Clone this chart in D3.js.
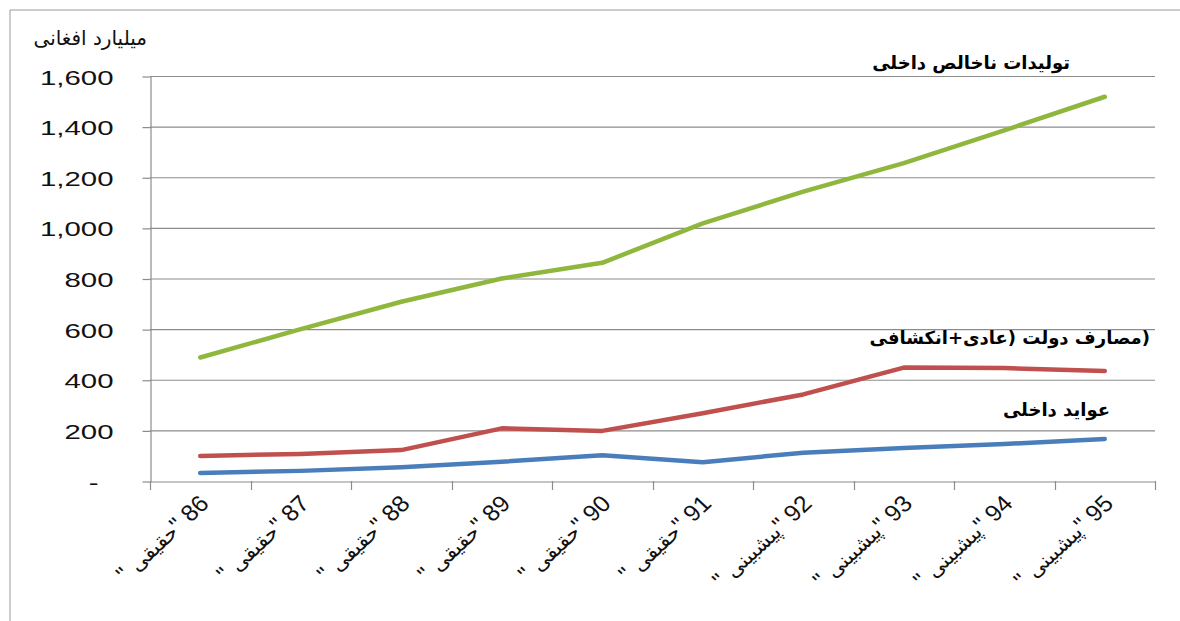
<!DOCTYPE html>
<html lang="fa">
<head>
<meta charset="UTF-8">
<title>Afghanistan GDP, spending, revenue</title>
<style>
    body { margin: 0; background: #fff; }
    .ar { font-family: "DejaVu Sans", sans-serif; }
    .num { font-family: "Liberation Sans", Arial, sans-serif; }
</style>
</head>
<body>
<div id="chart"></div>
<script src="https://d3js.org/d3.v7.min.js"></script>
<script>
// data (billion afghani)
const years = ["86", "87", "88", "89", "90", "91", "92", "93", "94", "95"];
const kinds = ["حقیقی", "حقیقی", "حقیقی", "حقیقی", "حقیقی", "حقیقی", "پیشبینی", "پیشبینی", "پیشبینی", "پیشبینی"];
const gdp      = [488, 600, 708, 800, 862, 1018, 1143, 1256, 1385, 1518];
const spending = [99, 107, 122, 208, 198, 268, 342, 448, 446, 435];
const revenue  = [32, 40, 54, 76, 102, 74, 112, 130, 146, 166];
const yTicks = [0, 200, 400, 600, 800, 1000, 1200, 1400, 1600];

const series = [
    { name: "تولیدات ناخالص داخلی", values: gdp, color: "#8fb73e", lx: 1070, ly: 69 },
    { name: "(مصارف دولت (عادی+انکشافی", values: spending, color: "#c0504d", lx: 1150, ly: 344 },
    { name: "عواید داخلی", values: revenue, color: "#4a7ebb", lx: 1110, ly: 416 }
];

const W = 1180, H = 621;
const plot = { left: 150, right: 1155, top: 76, bottom: 481 };
const stretch = 1.4;   // the source picture is widened horizontally

const svg = d3.select("#chart").append("svg")
    .attr("width", W)
    .attr("height", H);

// chart frame
svg.append("line").attr("x1", 10).attr("x2", W).attr("y1", 10).attr("y2", 10)
    .style("stroke", "#9a9a9a").style("stroke-width", 1);
svg.append("line").attr("x1", 10).attr("x2", 10).attr("y1", 10).attr("y2", H)
    .style("stroke", "#9a9a9a").style("stroke-width", 1);

const x = d3.scaleBand()
    .domain(years)
    .range([plot.left, plot.right]);

const y = d3.scaleLinear()
    .domain([0, 1600])
    .range([plot.bottom, plot.top]);

// gridlines
svg.append("g")
    .selectAll("line")
    .data(yTicks.filter(d => d > 0))
    .join("line")
    .attr("x1", plot.left)
    .attr("x2", plot.right)
    .attr("y1", d => y(d) + 0.5)
    .attr("y2", d => y(d) + 0.5)
    .style("stroke", "#8c8c8c")
    .style("stroke-width", 1.2);

// y axis
const yAxis = svg.append("g")
    .attr("transform", "translate(" + (plot.left + 0.5) + ",0.5)")
    .call(d3.axisLeft(y).tickValues(yTicks).tickSize(8).tickSizeOuter(0)
        .tickFormat(d => d === 0 ? "-" : d3.format(",")(d)));
yAxis.select(".domain").style("stroke", "#8c8c8c").style("stroke-width", 1.2);
yAxis.selectAll(".tick line").style("stroke", "#8c8c8c").style("stroke-width", 1.2);
yAxis.selectAll(".tick text")
    .attr("class", "num")
    .attr("x", 0)
    .attr("dy", "0.36em")
    .attr("transform", d => "translate(" + (d === 0 ? -52 : -37) + ",0) scale(" + stretch + ",1)")
    .style("font-size", "21px")
    .style("fill", "#111");

// x axis
const xAxis = svg.append("g")
    .attr("transform", "translate(0," + (plot.bottom + 0.5) + ")")
    .call(d3.axisBottom(x).tickSize(0).tickSizeOuter(0).tickFormat(""));
xAxis.select(".domain").style("stroke", "#8c8c8c").style("stroke-width", 1.2);

// tick marks on band edges
svg.append("g")
    .selectAll("line")
    .data(years.map(d => x(d)).concat([x(years[years.length - 1]) + x.bandwidth()]))
    .join("line")
    .attr("x1", d => Math.round(d) + 0.5)
    .attr("x2", d => Math.round(d) + 0.5)
    .attr("y1", plot.bottom)
    .attr("y2", plot.bottom + 9)
    .style("stroke", "#8c8c8c")
    .style("stroke-width", 1.2);

// rotated category labels: " kind " year
const labels = svg.append("g")
    .selectAll("text")
    .data(years)
    .join("text")
    .attr("class", "num")
    .attr("text-anchor", "end")
    .attr("transform", d => "translate(" + (x(d) + x.bandwidth() / 2 + 10) + "," + (plot.bottom + 24) + ") scale(1.08,1) rotate(-45)")
    .style("font-size", "23px")
    .style("fill", "#111");
labels.append("tspan").text("\" ");
labels.append("tspan")
    .attr("class", "ar")
    .style("font-size", "20px")
    .text((d, i) => "\u200E" + kinds[i] + "\u200E");
labels.append("tspan").text((d) => "\" " + d);

// lines
const line = d3.line()
    .x((d, i) => x(years[i]) + x.bandwidth() / 2)
    .y(d => y(d));

svg.append("g")
    .selectAll("path")
    .data(series)
    .join("path")
    .attr("d", d => line(d.values))
    .style("fill", "none")
    .style("stroke", d => d.color)
    .style("stroke-width", 4.5)
    .style("stroke-linecap", "round")
    .style("stroke-linejoin", "round");

// series labels
svg.append("g")
    .selectAll("text")
    .data(series)
    .join("text")
    .attr("class", "ar")
    .attr("x", d => d.lx)
    .attr("y", d => d.ly)
    .attr("direction", "rtl")
    .attr("text-anchor", "start")
    .style("font-size", "18px")
    .style("font-weight", "bold")
    .style("fill", "#000")
    .text(d => d.name);

// y axis title
svg.append("text")
    .attr("class", "ar")
    .attr("x", 147)
    .attr("y", 45)
    .attr("direction", "rtl")
    .attr("text-anchor", "start")
    .style("font-size", "20px")
    .style("fill", "#111")
    .text("میلیارد افغانی");
</script>
</body>
</html>
